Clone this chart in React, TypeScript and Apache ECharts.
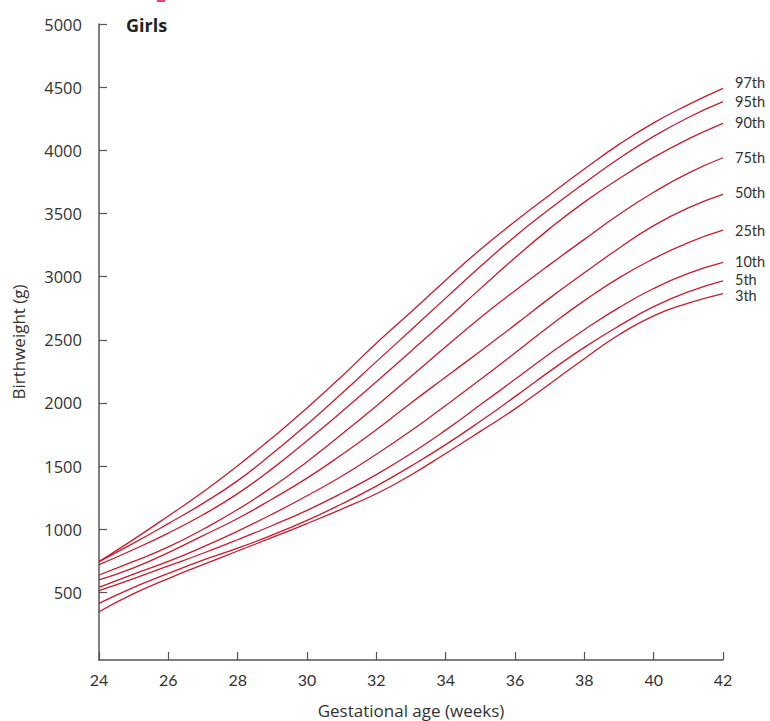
import React, { useEffect, useRef } from "react";
import * as echarts from "echarts";

const weeks = [24, 25, 26, 27, 28, 29, 30, 31, 32, 33, 34, 35, 36, 37, 38, 39, 40, 41, 42];
const yTicks = [500, 1000, 1500, 2000, 2500, 3000, 3500, 4000, 4500, 5000];

const p97 = [744, 920, 1105, 1295, 1503, 1725, 1960, 2210, 2473, 2720, 2972, 3215, 3437, 3647, 3852, 4047, 4217, 4362, 4491];
const p95 = [744, 890, 1045, 1205, 1385, 1600, 1830, 2075, 2327, 2577, 2830, 3080, 3318, 3535, 3740, 3935, 4110, 4260, 4385];
const p90 = [720, 840, 970, 1115, 1282, 1480, 1700, 1930, 2168, 2410, 2655, 2905, 3149, 3380, 3590, 3775, 3944, 4090, 4214];
const p75 = [638, 745, 860, 1000, 1156, 1335, 1535, 1752, 1976, 2210, 2445, 2675, 2889, 3095, 3295, 3492, 3668, 3820, 3941];
const p50 = [599, 695, 815, 950, 1085, 1240, 1405, 1590, 1787, 2000, 2205, 2410, 2618, 2830, 3030, 3225, 3404, 3545, 3651];
const p25 = [540, 645, 745, 860, 985, 1120, 1265, 1420, 1594, 1780, 1980, 2185, 2396, 2610, 2810, 2990, 3142, 3270, 3368];
const p10 = [514, 610, 710, 810, 917, 1030, 1150, 1285, 1433, 1600, 1785, 1985, 2187, 2390, 2580, 2755, 2906, 3025, 3112];
const p5 = [413, 540, 650, 755, 850, 955, 1070, 1200, 1342, 1500, 1670, 1855, 2050, 2250, 2440, 2610, 2762, 2880, 2966];
const p3 = [347, 490, 610, 720, 828, 935, 1045, 1160, 1281, 1430, 1600, 1775, 1953, 2150, 2350, 2540, 2690, 2790, 2866];

const seriesNames = ["97th", "95th", "90th", "75th", "50th", "25th", "10th", "5th", "3th"];
const seriesData = [p97, p95, p90, p75, p50, p25, p10, p5, p3];
const labelDy = [-6, 0, -1, 0, -2, 0, -1, -1, 2];

const FONT = "'Open Sans', Lato, sans-serif";
const LFONT = "Lato, 'Open Sans', sans-serif";

export default function App() {
  const ref = useRef<HTMLDivElement>(null);
  useEffect(() => {
    if (!ref.current) return;
    const chart = echarts.init(ref.current, null, { renderer: "svg" });
    chart.setOption({
      animation: false,
      backgroundColor: "#ffffff",
      grid: { left: 99, right: 47, top: 24, bottom: 61, containLabel: false, outerBoundsMode: "none" },
      graphic: [
        { type: "rect", left: 157, top: 0, shape: { width: 8, height: 2 }, style: { fill: "#e8407a" } },
        {
          type: "text",
          left: 126,
          top: 16,
          style: { text: "Girls", font: `bold 18px ${FONT}`, fill: "#222222" },
        },
      ],
      xAxis: {
        type: "value",
        min: 24,
        max: 42,
        interval: 2,
        name: "Gestational age (weeks)",
        nameLocation: "middle",
        nameGap: 41,
        nameTextStyle: { fontFamily: FONT, fontSize: 17, lineHeight: 18, color: "#333333" },
        axisLine: { show: true, onZero: false, lineStyle: { color: "#555555", width: 1.5 } },
        axisTick: { show: true, inside: true, length: 8, lineStyle: { color: "#555555", width: 1.2 } },
        axisLabel: { fontFamily: LFONT, fontSize: 16, color: "#333333", margin: 11 },
        splitLine: { show: false },
      },
      yAxis: {
        type: "value",
        min: -35,
        max: 5000,
        name: "Birthweight (g)",
        nameLocation: "middle",
        nameGap: 72,
        nameTextStyle: { fontFamily: FONT, fontSize: 17, color: "#333333" },
        axisLine: { show: true, onZero: false, lineStyle: { color: "#555555", width: 1.5 } },
        axisTick: { show: true, inside: true, length: 8, customValues: yTicks, lineStyle: { color: "#555555", width: 1.2 } },
        axisLabel: {
          fontFamily: FONT,
          fontSize: 16.5,
          color: "#333333",
          margin: 17,
          customValues: yTicks,
          formatter: (v: number) => String(v),
        },
        splitLine: { show: false },
      },
      series: seriesNames.map((name, i) => ({
        name,
        type: "line",
        smooth: true,
        symbol: "none",
        data: weeks.map((w, j) => [w, seriesData[i][j]]),
        lineStyle: { color: "#cc1a2c", width: 1.3 },
        endLabel: {
          show: true,
          formatter: "{a}",
          distance: 0,
          offset: [12, labelDy[i]],
          fontFamily: LFONT,
          fontSize: 14.5,
          lineHeight: 12,
          color: "#333333",
        },
      })),
    });
    return () => chart.dispose();
  }, []);
  return <div ref={ref} style={{ width: 770, height: 721, position: "absolute", left: 0, top: 0 }} />;
}
